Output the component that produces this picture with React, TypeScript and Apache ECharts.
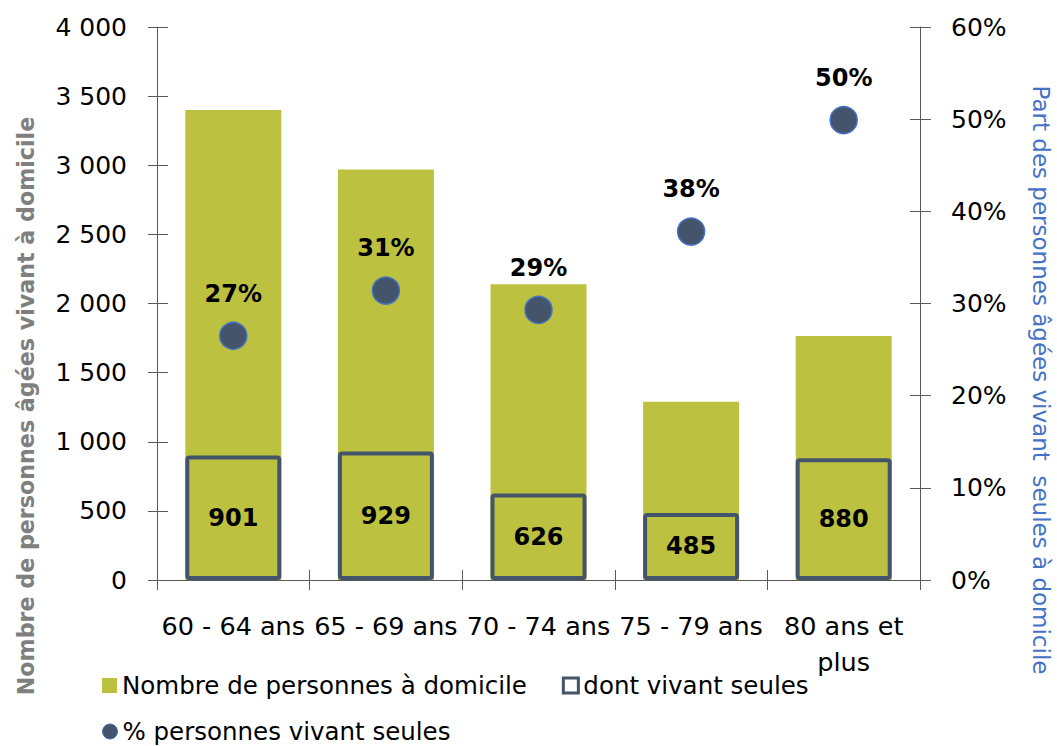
import React, { useEffect, useRef } from "react";
import * as echarts from "echarts";

const categories = ["60 - 64 ans", "65 - 69 ans", "70 - 74 ans", "75 - 79 ans", "80 ans et\nplus"];
const totalAtHome = [3400, 2970, 2140, 1290, 1765];
const livingAlone = [901, 929, 626, 485, 880];
const shareAlone = [26.5, 31.4, 29.3, 37.8, 49.9];

const seriesNames = ["Nombre de personnes à domicile", "dont vivant seules", "% personnes vivant seules"];
const leftAxisName = "Nombre de personnes âgées vivant à domicile";
const rightAxisName = "Part des personnes âgées vivant  seules à domicile";

const OLIVE = "#BCC13F";
const SLATE = "#44546A";
const BLUE = "#4472C4";
const AXIS = "#595959";
const FONT = "'DejaVu Sans', 'Noto Sans', sans-serif";

const fmtThousands = (v: number) => String(v).replace(/\B(?=(\d{3})+(?!\d))/g, " ");

export default function App() {
  const ref = useRef<HTMLDivElement>(null);
  useEffect(() => {
    if (!ref.current) return;
    const chart = echarts.init(ref.current, undefined, { renderer: "svg" });
    const grid = { left: 157, right: 137, top: 27, bottom: 166, containLabel: false };
    chart.setOption({
      animation: false,
      backgroundColor: "#fff",
      textStyle: { fontFamily: FONT },
      grid,
      legend: [
        {
          left: 97,
          top: 668,
          itemWidth: 15,
          itemHeight: 15,
          itemGap: 35,
          textStyle: { fontSize: 24.5, color: "#000", fontFamily: FONT },
          data: [
            { name: seriesNames[0], icon: "rect", itemStyle: { color: OLIVE, borderWidth: 0 } },
            { name: seriesNames[1], icon: "rect", itemStyle: { color: "#fff", borderColor: SLATE, borderWidth: 3 } },
          ],
        },
        {
          left: 97,
          top: 714,
          itemWidth: 15,
          itemHeight: 15,
          textStyle: { fontSize: 24.5, color: "#000", fontFamily: FONT },
          data: [{ name: seriesNames[2], icon: "circle", itemStyle: { color: SLATE, borderColor: BLUE, borderWidth: 1 } }],
        },
      ],
      xAxis: [
        {
          type: "category",
          data: categories,
          position: "bottom",
          axisLine: { show: true, lineStyle: { color: AXIS, width: 1 } },
          axisTick: { show: true, length: 10, lineStyle: { color: AXIS } },
          axisLabel: { fontSize: 25.5, color: "#000", margin: 28, lineHeight: 36, fontFamily: FONT, interval: 0 },
        },
        {
          type: "category",
          data: categories,
          position: "bottom",
          axisLine: { show: false },
          axisTick: { show: true, inside: true, length: 10, lineStyle: { color: AXIS } },
          axisLabel: { show: false },
        },
      ],
      yAxis: [
        {
          type: "value",
          min: 0,
          max: 4000,
          interval: 500,
          position: "left",
          splitLine: { show: false },
          axisLine: { show: true, lineStyle: { color: AXIS } },
          axisTick: { show: true, length: 9, lineStyle: { color: AXIS } },
          axisLabel: { fontSize: 25, color: "#000", margin: 30, fontFamily: FONT, formatter: (v: number) => fmtThousands(v) },
        },
        {
          type: "value",
          min: 0,
          max: 60,
          interval: 10,
          position: "right",
          splitLine: { show: false },
          axisLine: { show: true, lineStyle: { color: AXIS } },
          axisTick: { show: true, length: 11, lineStyle: { color: AXIS } },
          axisLabel: { fontSize: 25, color: "#000", margin: 31, fontFamily: FONT, formatter: "{value}%" },
        },
        {
          type: "value",
          min: 0,
          max: 4000,
          interval: 500,
          position: "left",
          splitLine: { show: false },
          axisLine: { show: false },
          axisTick: { show: true, inside: true, length: 11, lineStyle: { color: AXIS } },
          axisLabel: { show: false },
        },
        {
          type: "value",
          min: 0,
          max: 60,
          interval: 10,
          position: "right",
          splitLine: { show: false },
          axisLine: { show: false },
          axisTick: { show: true, inside: true, length: 10, lineStyle: { color: AXIS } },
          axisLabel: { show: false },
        },
      ],
      graphic: [
        {
          type: "text",
          x: 26,
          y: 406,
          rotation: Math.PI / 2,
          style: {
            text: leftAxisName,
            fontSize: 22.2,
            fontWeight: "bold",
            fill: "#7F7F7F",
            fontFamily: FONT,
            align: "center",
            verticalAlign: "middle",
          },
        },
        {
          type: "text",
          x: 1041,
          y: 380,
          rotation: -Math.PI / 2,
          style: {
            text: rightAxisName,
            fontSize: 23,
            fill: BLUE,
            fontFamily: FONT,
            align: "center",
            verticalAlign: "middle",
          },
        },
      ],
      series: [
        {
          name: seriesNames[0],
          type: "bar",
          xAxisIndex: 0,
          yAxisIndex: 0,
          data: totalAtHome,
          barWidth: 96,
          itemStyle: { color: OLIVE },
          z: 2,
        },
        {
          name: seriesNames[1],
          type: "bar",
          xAxisIndex: 0,
          yAxisIndex: 0,
          data: livingAlone,
          barWidth: 96,
          barGap: "-100%",
          itemStyle: { color: "rgba(0,0,0,0)", borderColor: SLATE, borderWidth: 4, borderRadius: 2 },
          label: {
            show: true,
            position: "inside",
            fontSize: 24,
            fontWeight: "bold",
            color: "#000",
            fontFamily: FONT,
          },
          z: 3,
        },
        {
          name: seriesNames[2],
          type: "scatter",
          xAxisIndex: 0,
          yAxisIndex: 1,
          data: shareAlone,
          symbol: "circle",
          symbolSize: 27,
          itemStyle: { color: SLATE, borderColor: BLUE, borderWidth: 1.5, opacity: 1 },
          label: {
            show: true,
            position: "top",
            distance: 16,
            fontSize: 24,
            fontWeight: "bold",
            color: "#000",
            fontFamily: FONT,
            formatter: (p: any) => Math.round(p.value) + "%",
          },
          z: 4,
        },
      ],
    });
    return () => chart.dispose();
  }, []);
  return <div ref={ref} style={{ position: "fixed", left: 0, top: 0, width: 1057, height: 746 }} />;
}
